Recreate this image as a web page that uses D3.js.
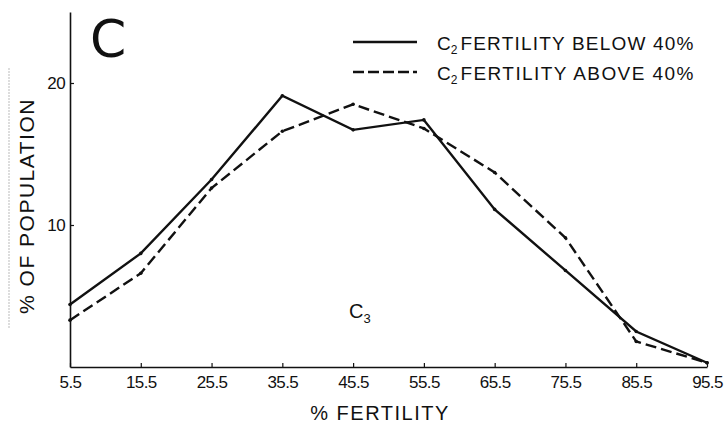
<!DOCTYPE html>
<html><head><meta charset="utf-8">
<script src="https://cdn.jsdelivr.net/npm/d3@7"></script>
<style>
body{margin:0;background:#fff;}
svg{display:block;font-family:"Liberation Sans","DejaVu Sans",sans-serif;}
</style></head>
<body>
<svg id="chart" width="725" height="427"></svg>
<script>
const fertilityBins = [5.5, 15.5, 25.5, 35.5, 45.5, 55.5, 65.5, 75.5, 85.5, 95.5];
const below40 = [4.4, 8.0, 13.2, 19.1, 16.7, 17.4, 11.1, 6.8, 2.5, 0.3];
const above40 = [3.3, 6.6, 12.6, 16.6, 18.5, 16.8, 13.7, 9.1, 1.8, 0.3];
const xTickLabels = ["5.5","15.5","25.5","35.5","45.5","55.5","65.5","75.5","85.5","95.5"];
const yTicks = [10, 20];
const seriesNames = ["FERTILITY BELOW 40%", "FERTILITY ABOVE 40%"];

const svg = d3.select("#chart");
const x = d3.scaleLinear().domain([5.5, 95.5]).range([70, 707]);
const y = d3.scaleLinear().domain([0, 25]).range([367, 12]);

// faint scan line at left
svg.append("line").attr("x1",9).attr("x2",9).attr("y1",68).attr("y2",328)
  .attr("stroke","#bbb").attr("stroke-width",1).attr("stroke-dasharray","2,1");

// x axis
const xAxis = d3.axisBottom(x).tickValues(fertilityBins)
  .tickFormat((d,i)=>xTickLabels[i]).tickSizeInner(-4).tickSizeOuter(0).tickPadding(8);
const gx = svg.append("g").attr("transform",`translate(0,${y(0)})`).call(xAxis);
gx.select(".domain").attr("stroke","#111").attr("stroke-width",1.6);
gx.selectAll(".tick line").attr("stroke","#111").attr("stroke-width",1.2);
gx.selectAll(".tick text").attr("font-size",17).attr("fill","#111")
  .attr("font-family","'Liberation Sans',sans-serif").attr("letter-spacing",-0.6).attr("dy","0.75em");

// y axis
const yAxis = d3.axisLeft(y).tickValues(yTicks).tickSizeInner(-4).tickSizeOuter(0).tickPadding(5);
const gy = svg.append("g").attr("transform",`translate(${x(5.5)},0)`).call(yAxis);
gy.select(".domain").attr("stroke","#111").attr("stroke-width",1.6);
gy.selectAll(".tick line").attr("stroke","#111").attr("stroke-width",1.2);
gy.selectAll(".tick text").attr("font-size",17).attr("fill","#111")
  .attr("font-family","'Liberation Sans',sans-serif").attr("letter-spacing",-0.6);

// lines
const line = d3.line().x((d,i)=>x(fertilityBins[i])).y(d=>y(d));
svg.append("path").datum(below40).attr("d",line).attr("fill","none")
  .attr("stroke","#111").attr("stroke-width",2.4).attr("stroke-linejoin","miter");
svg.append("path").datum(above40).attr("d",line).attr("fill","none")
  .attr("stroke","#111").attr("stroke-width",2.4).attr("stroke-dasharray","11,5");
[below40, above40].forEach(s=>{
  svg.append("g").selectAll("circle").data(s).join("circle")
    .attr("cx",(d,i)=>x(fertilityBins[i])).attr("cy",d=>y(d)).attr("r",1.8).attr("fill","#111");
});

// big C
svg.append("text").attr("x",90).attr("y",57).attr("font-size",52).attr("fill","#111")
  .attr("font-family","'DejaVu Sans',sans-serif")
  .text("C");

// legend
const legendY = [42, 72];
[0,1].forEach(i=>{
  svg.append("line").attr("x1",353).attr("x2",417).attr("y1",legendY[i]).attr("y2",legendY[i])
    .attr("stroke","#111").attr("stroke-width",2.4)
    .attr("stroke-dasharray", i===1 ? "11,4" : null);
  const t = svg.append("text").attr("x",437).attr("y",legendY[i]+8).attr("font-size",19).attr("fill","#111");
  t.append("tspan").text("C");
  t.append("tspan").attr("font-size",12).attr("dy",4).text("2");
  t.append("tspan").attr("dy",-4).attr("dx",3).text(seriesNames[i])
    .attr("textLength",233).attr("lengthAdjust","spacing");
});

// C3 label
const c3 = svg.append("text").attr("x",349).attr("y",318).attr("font-size",20).attr("fill","#111");
c3.append("tspan").text("C");
c3.append("tspan").attr("font-size",13).attr("dy",5).text("3");

// axis titles
svg.append("text").attr("x",380).attr("y",420).attr("text-anchor","middle")
  .attr("font-size",20).attr("fill","#111").attr("letter-spacing",1.5).text("% FERTILITY");
svg.append("text").attr("transform","translate(34,206) rotate(-90)").attr("text-anchor","middle")
  .attr("font-size",21).attr("fill","#111").attr("letter-spacing",1.5).text("% OF POPULATION");
</script>
</body></html>
